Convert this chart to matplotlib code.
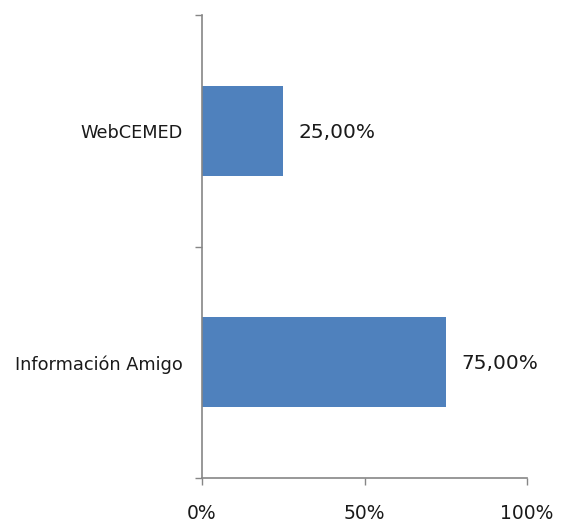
import matplotlib
matplotlib.use("Agg")
import matplotlib.pyplot as plt
from matplotlib.ticker import FixedLocator, FuncFormatter

# data
categories = ["Información Amigo", "WebCEMED"]
values = [75.0, 25.0]
value_labels = ["75,00%", "25,00%"]
xticks = [0, 50, 100]

plt.rcParams['font.family'] = ['DejaVu Sans']

fig = plt.figure(figsize=(5.66, 5.25), dpi=100)
ax = fig.add_axes([0.357, 0.0895, 0.574, 0.8815])

pos = list(range(len(categories)))
bars = ax.barh(pos, values, height=0.39, color="#4F81BD")

# value labels to the right of each bar
for b, lab in zip(bars, value_labels):
    ax.annotate(lab, (b.get_width(), b.get_y() + b.get_height() / 2),
                xytext=(11, -1), textcoords="offset points",
                va="center", ha="left", fontsize=14.5, color="#1a1a1a")

ax.set_xlim(0, 100)
ax.set_ylim(-0.5, len(categories) - 0.5)

ax.set_xticks(xticks)
ax.xaxis.set_major_formatter(FuncFormatter(lambda v, p: f"{v:.0f}%"))
ax.tick_params(axis="x", length=5, width=1, color="#868686", labelsize=13.5,
               pad=14, labelcolor="#1a1a1a")

# category labels centered, tick marks on boundaries
ax.yaxis.set_major_locator(FixedLocator([-0.5, 0.5, 1.5]))
ax.yaxis.set_major_formatter(FuncFormatter(lambda v, p: ""))
ax.yaxis.set_minor_locator(FixedLocator(pos))
ax.set_yticklabels(categories, minor=True)
ax.tick_params(axis="y", which="major", length=5, width=1, color="#868686")
ax.tick_params(axis="y", which="minor", length=0, pad=14, labelsize=12.8,
               labelcolor="#1a1a1a")

for s in ["top", "right"]:
    ax.spines[s].set_visible(False)
for s in ["left", "bottom"]:
    ax.spines[s].set_color("#868686")
    ax.spines[s].set_linewidth(1.2)

fig.savefig("out.png", dpi=100)
